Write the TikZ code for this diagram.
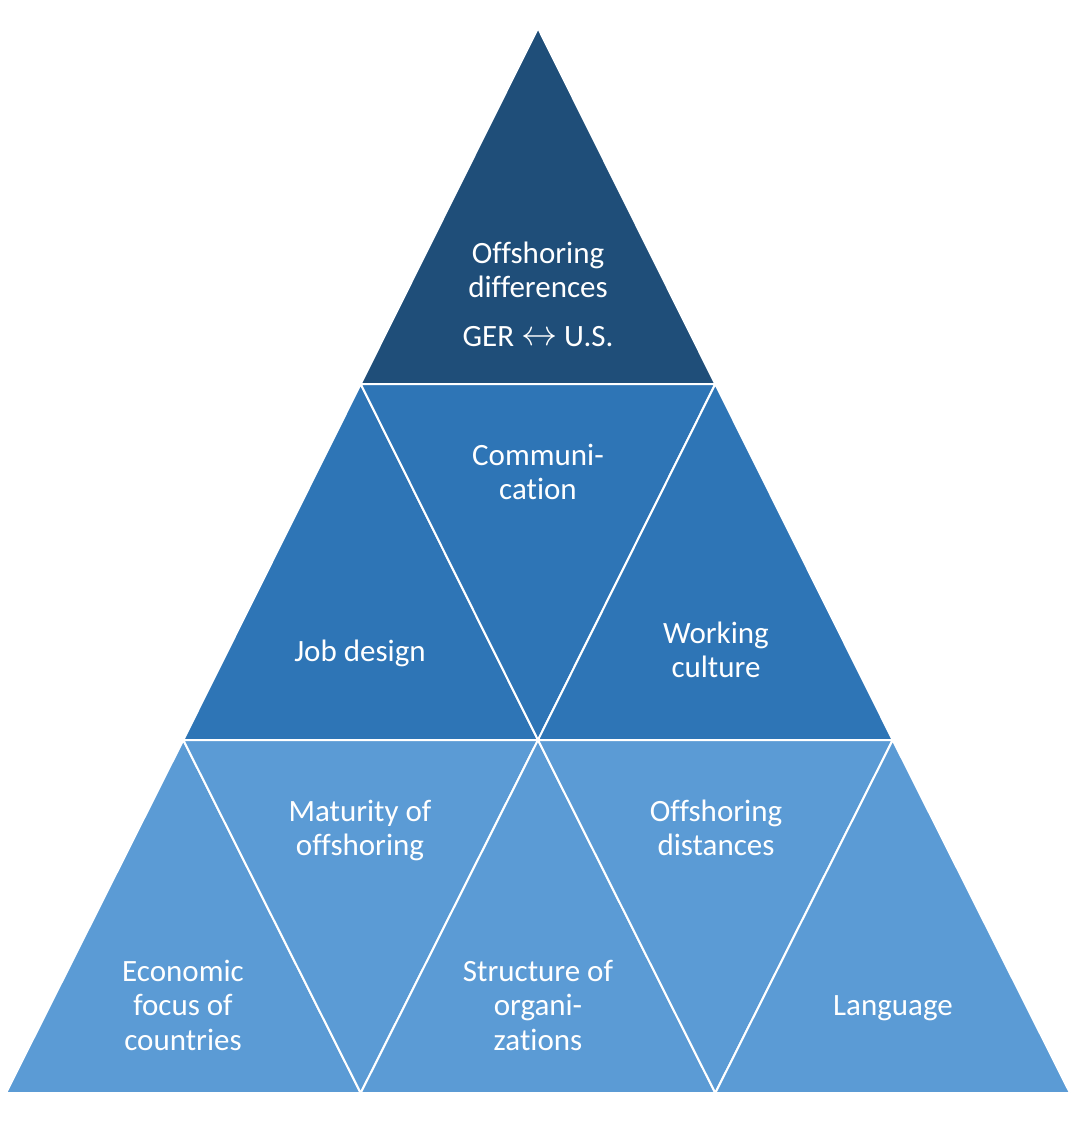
\documentclass[tikz,border=0pt]{standalone}
\usepackage{fontspec}
\setmainfont[Ligatures=NoCommon]{Carlito}
\usepackage{graphicx}
\definecolor{cdark}{HTML}{1F4E79}
\definecolor{cmid}{HTML}{2E75B6}
\definecolor{clight}{HTML}{5B9BD5}
\begin{document}
\begin{tikzpicture}[x=1pt,y=-1pt,
  tri/.style={draw=white,line width=2pt,line join=miter},
  lbl/.style={text=white,font=\fontsize{31}{34}\selectfont,anchor=base,inner sep=0pt}]
\useasboundingbox[fill=white] (0,0) rectangle (1076,1125);
% coordinates
\coordinate (A) at (538,28);
\coordinate (B1) at (360.7,384); \coordinate (B2) at (715.3,384);
\coordinate (C1) at (183.3,740); \coordinate (C2) at (538,740); \coordinate (C3) at (892.7,740);
\coordinate (D1) at (6,1093); \coordinate (D2) at (360.7,1093); \coordinate (D3) at (715.3,1093); \coordinate (D4) at (1070,1093);
% row 1
\draw[tri,fill=cdark] (A) -- (B1) -- (B2) -- cycle;
% row 2
\draw[tri,fill=cmid] (B1) -- (C1) -- (C2) -- cycle;
\draw[tri,fill=cmid] (B1) -- (B2) -- (C2) -- cycle;
\draw[tri,fill=cmid] (B2) -- (C2) -- (C3) -- cycle;
% row 3
\draw[tri,fill=clight] (C1) -- (D1) -- (D2) -- cycle;
\draw[tri,fill=clight] (C1) -- (C2) -- (D2) -- cycle;
\draw[tri,fill=clight] (C2) -- (D2) -- (D3) -- cycle;
\draw[tri,fill=clight] (C2) -- (C3) -- (D3) -- cycle;
\draw[tri,fill=clight] (C3) -- (D3) -- (D4) -- cycle;
% labels
\node[lbl] (t1a) at (538,263) {Offshoring};
\node[lbl] (t1b) at (538,297) {differences};
\node[lbl] (t1c) at (538,346) {GER \raisebox{0.5pt}{\scalebox{1.45}{$\leftrightarrow$}} U.S.};
\node[lbl] (t2a) at (538,465) {Communi-};
\node[lbl] (t2b) at (538,499) {cation};
\node[lbl] (t3a) at (360,661) {Job design};
\node[lbl] (t4a) at (716,643) {Working};
\node[lbl] (t4b) at (716,677) {culture};
\node[lbl] (t5a) at (360,821) {Maturity of};
\node[lbl] (t5b) at (360,855) {offshoring};
\node[lbl] (t6a) at (716,821) {Offshoring};
\node[lbl] (t6b) at (716,855) {distances};
\node[lbl] (t7a) at (183,981) {Economic};
\node[lbl] (t7b) at (183,1015) {focus of};
\node[lbl] (t7c) at (183,1050) {countries};
\node[lbl] (t8a) at (538,981) {Structure of};
\node[lbl] (t8b) at (538,1015) {organi-};
\node[lbl] (t8c) at (538,1050) {zations};
\node[lbl] (t9a) at (893,1015) {Language};
\end{tikzpicture}
\end{document}
